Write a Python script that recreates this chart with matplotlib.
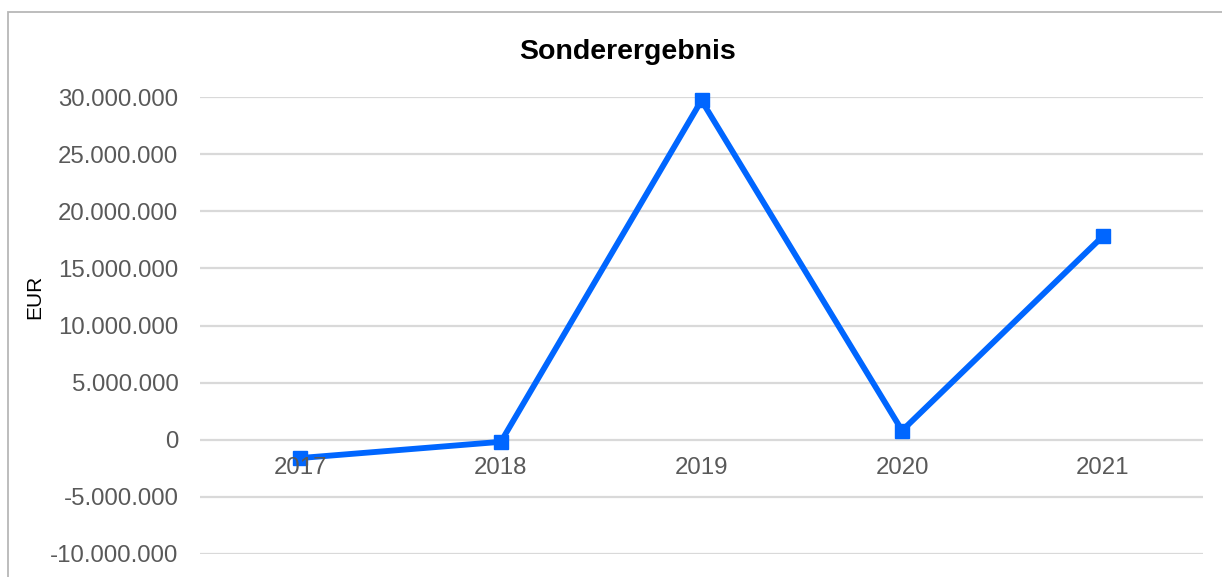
import numpy as np
import matplotlib
matplotlib.use('Agg')
import matplotlib.pyplot as plt
from matplotlib.patches import Rectangle
from matplotlib.ticker import FuncFormatter

# data
years = ['2017', '2018', '2019', '2020', '2021']
values = [-1.6e6, -0.18e6, 29.7e6, 0.8e6, 17.8e6]
yticks = np.arange(-10e6, 30e6 + 1, 5e6)

W, H = 1222, 577
plt.rcParams['font.family'] = ['Liberation Sans', 'DejaVu Sans']
fig = plt.figure(figsize=(W / 100, H / 100), dpi=100)

# outer chart frame (right and bottom edges are cropped in the reference)
fig.patches.append(Rectangle((8 / W, -0.1), 1.2, 1 - 12 / H + 0.1, transform=fig.transFigure,
                             fill=False, edgecolor='#b7b7b7', lw=1.3, zorder=0))

ax = fig.add_axes([200 / W, 1 - 554 / H, (1203 - 200) / W, (554 - 97) / H])
x = np.arange(len(years))
ax.plot(x, values, '-s', color='#0066ff', lw=4.2, ms=10, zorder=3, clip_on=False)

ax.set_xlim(-0.5, len(years) - 0.5)
ax.set_ylim(-10e6, 30e6)
ax.set_yticks(yticks)
ax.yaxis.set_major_formatter(FuncFormatter(lambda v, p: f'{v:,.0f}'.replace(',', '.')))
ax.tick_params(axis='y', length=0, pad=15.5, labelsize=17.3, labelcolor='#595959')
ax.set_xticks([])
ax.grid(axis='y', color='#d9d9d9', lw=1.6)
ax.set_axisbelow(True)
for sp in ax.spines.values():
    sp.set_visible(False)

# category labels sit just under the zero line
for xi, yr in zip(x, years):
    ax.annotate(yr, (xi, 0), xytext=(0, -28), textcoords='offset pixels',
                ha='center', va='center', fontsize=17.3, color='#595959')

fig.text(35 / W, 1 - 297 / H, 'EUR', rotation=90, ha='center', va='center',
         fontsize=15, color='black')
fig.text(628 / W, 1 - 52 / H, 'Sonderergebnis', ha='center', va='center',
         fontsize=20.5, fontweight='bold', color='black')

fig.savefig('out.png', dpi=100)
